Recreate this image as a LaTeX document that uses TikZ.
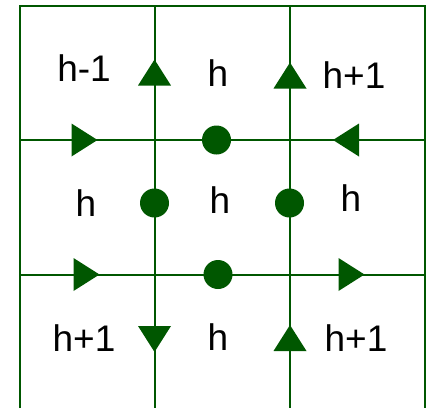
\documentclass[tikz,border=0pt]{standalone}
\usepackage{fontspec}
\setmainfont{Liberation Sans}
\definecolor{dg}{RGB}{0,87,0}
\begin{document}
\begin{tikzpicture}[x=1pt,y=-1pt,
  gridline/.style={draw=dg,line width=2pt},
  lbl/.style={inner sep=0pt,font=\fontsize{37}{40}\selectfont},
  dot/.style={circle,fill=dg,minimum size=29pt,inner sep=0pt},
  tri/.pic={\fill[dg,rotate=#1] (13,0) -- (-13,16.5) -- (-13,-16.5) -- cycle;}]
\useasboundingbox (0,0) rectangle (428,408);
% grid coordinates
\coordinate (tl) at (19.5,6);
\coordinate (tr) at (424.5,6);
\coordinate (bl) at (19.5,408);
\coordinate (br) at (424.5,408);
\coordinate (v1t) at (154.5,6);
\coordinate (v1b) at (154.5,408);
\coordinate (v2t) at (290,6);
\coordinate (v2b) at (290,408);
\coordinate (h1l) at (19.5,140);
\coordinate (h1r) at (424.5,140);
\coordinate (h2l) at (19.5,274.5);
\coordinate (h2r) at (424.5,274.5);
\draw[gridline] (bl) -- (tl) -- (tr) -- (br);
\draw[gridline] (v1t) -- (v1b);
\draw[gridline] (v2t) -- (v2b);
\draw[gridline] (h1l) -- (h1r);
\draw[gridline] (h2l) -- (h2r);
% arrows
\pic at (154.5,72.5) {tri=90};
\pic at (290,75.5) {tri=90};
\pic at (84.5,140) {tri=0};
\pic at (346,140) {tri=180};
\pic at (86.5,274.5) {tri=0};
\pic at (351.5,274.5) {tri=0};
\pic at (154.5,339) {tri=-90};
\pic at (290,338) {tri=90};
% dots
\node[dot] (d1) at (216.5,140) {};
\node[dot] (d2) at (154.5,203) {};
\node[dot] (d3) at (289.5,203) {};
\node[dot] (d4) at (218,274.5) {};
% labels
\node[lbl] (l11) at (84,68.5) {h-1};
\node[lbl] (l12) at (218,73) {h};
\node[lbl] (l13) at (354,75) {h+1};
\node[lbl] (l21) at (86,203) {h};
\node[lbl] (l22) at (220,200) {h};
\node[lbl] (l23) at (351,198.5) {h};
\node[lbl] (l31) at (84,338.5) {h+1};
\node[lbl] (l32) at (218,337.5) {h};
\node[lbl] (l33) at (356,338.5) {h+1};
\end{tikzpicture}
\end{document}
